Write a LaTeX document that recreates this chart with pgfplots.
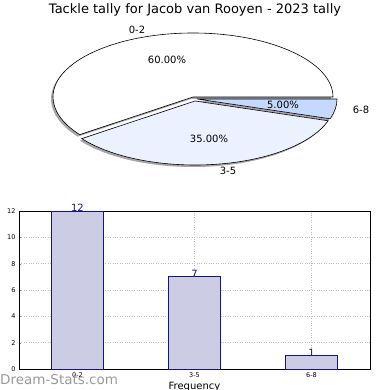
\documentclass[border=0pt]{standalone}
\usepackage{pgfplots}
\pgfplotsset{compat=1.18}
\usepackage{fontspec}
\setmainfont{DejaVu Sans}
\definecolor{barfill}{RGB}{204,204,229}
\definecolor{baredge}{RGB}{20,20,130}
\definecolor{sliceB}{RGB}{235,241,255}
\definecolor{sliceC}{RGB}{197,217,255}
\begin{document}
\begin{tikzpicture}[x=1pt,y=1pt]
\useasboundingbox (0,0) rectangle (390,390);
\begin{scope}
\clip (0,0) rectangle (390,390);
% ---------- pie ----------
\begin{axis}[at={(0pt,195pt)},anchor=south west,scale only axis,
  width=390pt,height=195pt,xmin=0,xmax=390,ymin=195,ymax=390,hide axis,clip=false]
\pgfmathsetmacro{\va}{12}\pgfmathsetmacro{\vb}{7}\pgfmathsetmacro{\vc}{1}
\pgfmathsetmacro{\tot}{\va+\vb+\vc}
\pgfmathsetmacro{\aa}{360*\va/\tot}
\pgfmathsetmacro{\ab}{\aa+360*\vb/\tot}
% shadows
\fill[gray!70] (axis cs:191,291) -- ++(0:140pt and 64pt) arc[start angle=0,end angle=\aa,x radius=140pt,y radius=64pt] -- cycle;
\fill[gray!70] (axis cs:193,287) -- ++(\aa:140pt and 64pt) arc[start angle=\aa,end angle=\ab,x radius=140pt,y radius=64pt] -- cycle;
\fill[gray!70] (axis cs:195,289) -- ++(\ab:140pt and 64pt) arc[start angle=\ab,end angle=360,x radius=140pt,y radius=64pt] -- cycle;
% slices
\filldraw[fill=white,draw=black,line width=0.6pt] (axis cs:193,293) -- ++(0:140pt and 64pt) arc[start angle=0,end angle=\aa,x radius=140pt,y radius=64pt] -- cycle;
\filldraw[fill=sliceB,draw=black,line width=0.6pt] (axis cs:195,289) -- ++(\aa:140pt and 64pt) arc[start angle=\aa,end angle=\ab,x radius=140pt,y radius=64pt] -- cycle;
\filldraw[fill=sliceC,draw=black,line width=0.6pt] (axis cs:197,291) -- ++(\ab:140pt and 64pt) arc[start angle=\ab,end angle=360,x radius=140pt,y radius=64pt] -- cycle;
\node[font=\fontsize{13}{15}\selectfont] at (axis cs:195,380) {Tackle tally for Jacob van Rooyen - 2023 tally};
\node[font=\fontsize{10}{12}\selectfont] at (axis cs:137,360) {0-2};
\node[font=\fontsize{10}{12}\selectfont] at (axis cs:167,330) {60.00\%};
\node[font=\fontsize{10}{12}\selectfont] at (axis cs:209,251) {35.00\%};
\node[font=\fontsize{10}{12}\selectfont] at (axis cs:283,285) {5.00\%};
\node[font=\fontsize{10}{12}\selectfont] at (axis cs:228,219) {3-5};
\node[font=\fontsize{10}{12}\selectfont] at (axis cs:361,280) {6-8};
\end{axis}
% ---------- bars ----------
\begin{axis}[at={(19pt,21pt)},anchor=south west,scale only axis,
  width=351pt,height=158pt,
  xmin=-0.5,xmax=2.5,ymin=0,ymax=12,
  xtick={0,1,2},xticklabels={0-2,3-5,6-8},
  ytick={0,2,...,12},
  tick label style={font=\fontsize{6.5}{7}\selectfont},
  /pgf/number format/assume math mode=true,
  grid=major,grid style={gray!50,dotted,line width=0.8pt},
  tick align=inside,major tick length=2pt,
  xtick pos=bottom,ytick pos=left,
  axis line style={line width=0.7pt},
  xlabel={Frequency},ylabel={Total Matches},
  label style={font=\fontsize{10}{12}\selectfont},
  xlabel style={at={(axis description cs:0.5,0)},yshift=-10pt,anchor=north},
  ylabel style={at={(axis description cs:-0.07,0.5)},anchor=center},
  clip=false]
\addplot[ybar,bar width=0.44,fill=barfill,draw=baredge,line width=0.7pt,
  nodes near coords,nodes near coords style={font=\fontsize{10}{12}\selectfont,color=baredge,yshift=-4pt}]
  coordinates {(0,12) (1,7) (2,1)};
\end{axis}
\node[anchor=west,text=gray!80,font=\fontsize{13.5}{15}\selectfont,inner sep=0pt] at (0,10) {Dream-Stats.com};
\end{scope}
\end{tikzpicture}
\end{document}
